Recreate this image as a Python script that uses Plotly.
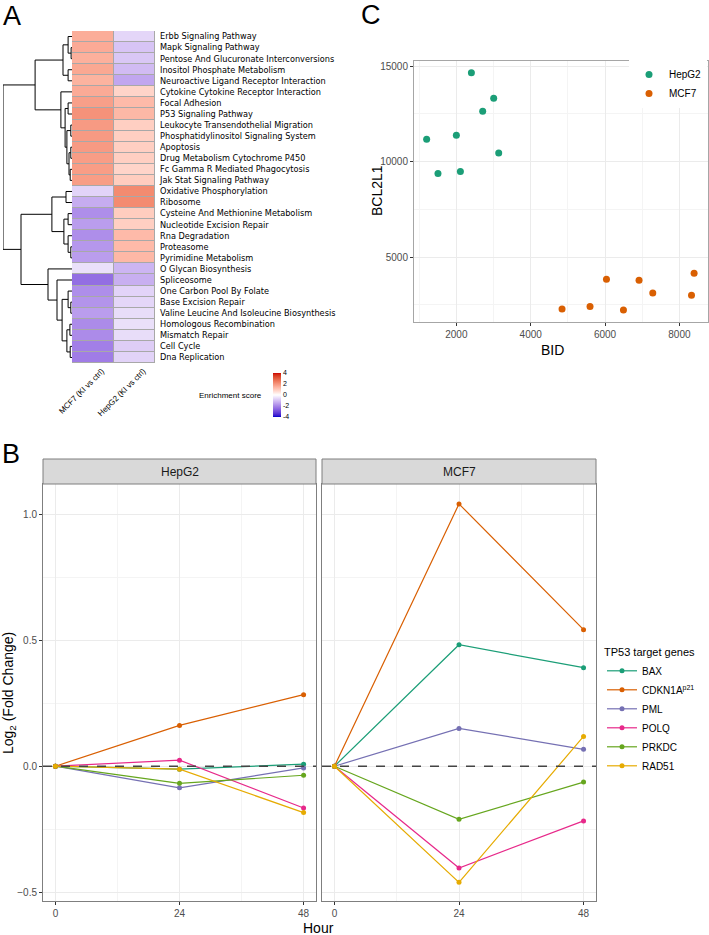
import plotly.graph_objects as go
import numpy as np

W, H = 709, 935
def px(x): return x / W
def py(y): return 1 - y / H

# ---------------- Panel A data ----------------
pathways = [
    "Erbb Signaling Pathway", "Mapk Signaling Pathway", "Pentose And Glucuronate Interconversions",
    "Inositol Phosphate Metabolism", "Neuroactive Ligand Receptor Interaction",
    "Cytokine Cytokine Receptor Interaction", "Focal Adhesion", "P53 Signaling Pathway",
    "Leukocyte Transendothelial Migration", "Phosphatidylinositol Signaling System", "Apoptosis",
    "Drug Metabolism Cytochrome P450", "Fc Gamma R Mediated Phagocytosis", "Jak Stat Signaling Pathway",
    "Oxidative Phosphorylation", "Ribosome", "Cysteine And Methionine Metabolism",
    "Nucleotide Excision Repair", "Rna Degradation", "Proteasome", "Pyrimidine Metabolism",
    "O Glycan Biosynthesis", "Spliceosome", "One Carbon Pool By Folate", "Base Excision Repair",
    "Valine Leucine And Isoleucine Biosynthesis", "Homologous Recombination", "Mismatch Repair",
    "Cell Cycle", "Dna Replication",
]
mcf7_score = [1.55, 1.6, 1.5, 1.65, 1.45, 1.6, 1.8, 2.05, 1.9, 1.9, 1.9, 1.85, 1.85, 1.85,
              -0.7, -1.35, -1.85, -1.6, -1.85, -1.7, -1.6,
              -0.5, -2.4, -1.85, -1.75, -1.6, -1.9, -1.9, -2.1, -2.15]
hepg2_score = [-0.65, -0.95, -0.9, -1.1, -1.45, 0.8, 1.3, 1.35, 0.9, 0.9, 0.9, 0.9, 0.8, 0.95,
               2.2, 2.2, 0.95, 0.9, 1.3, 1.3, 1.35,
               -1.2, -1.3, -0.7, -0.65, -0.55, -0.5, -0.55, -0.8, -0.7]
col_labels = ["MCF7 (KI vs ctrl)", "HepG2 (KI vs ctrl)"]
score_ticks = [-4, -2, 0, 2, 4]

# row dendrogram: (merge height, left, right); leaves = row index
row_tree = (23.0,
            (12.3,
             (3.0, (1.3, 0, (0.3, 1, 2)), (1.3, 3, 4)),
             (3.7, 5, (2.3, (1.3, 6, 7),
                       (1.7, (0.4, 8, 9), (1.0, (0.4, 10, 11), (0.6, 12, 13)))))),
            (17.0,
             (6.7, (2.0, 14, 15), (2.7, (1.3, 16, 17), (1.3, 18, (0.4, 19, 20)))),
             (8.0, 21, (5.0, 22, (3.3, (1.3, 23, (0.4, 24, 25)),
                                  (1.7, (0.7, 26, 27), (0.6, 28, 29)))))))

# ---------------- Panel B data ----------------
hours = [0, 24, 48]
genes = ["BAX", "CDKN1A", "PML", "POLQ", "PRKDC", "RAD51"]
gene_labels = ["BAX", "CDKN1A<sup>p21</sup>", "PML", "POLQ", "PRKDC", "RAD51"]
hepg2_0h = [0.0, 0.0, 0.0, 0.0, 0.0, 0.0]
hepg2_24h = [-0.012, 0.162, -0.086, 0.024, -0.068, -0.012]
hepg2_48h = [0.008, 0.284, -0.007, -0.166, -0.036, -0.184]
mcf7_0h = [0.0, 0.0, 0.0, 0.0, 0.0, 0.0]
mcf7_24h = [0.482, 1.041, 0.150, -0.404, -0.211, -0.461]
mcf7_48h = [0.391, 0.542, 0.067, -0.217, -0.063, 0.118]
gene_colors = ["#1B9E77", "#D95F02", "#7570B3", "#E7298A", "#66A61E", "#E6AB02"]

# ---------------- Panel C data ----------------
hepg2_bid = [1200, 1505, 2000, 2108, 2404, 2708, 3004, 3139]
hepg2_bcl2l1 = [11167, 9375, 11375, 9479, 14656, 12640, 13317, 10453]
mcf7_bid = [4843, 5596, 6038, 6495, 6915, 7284, 8326, 8396]
mcf7_bcl2l1 = [2276, 2417, 3839, 2224, 3787, 3125, 3005, 4151]

# ---------------- helpers ----------------
def _lin(c):
    c = c / 255.0
    return c / 12.92 if c <= 0.04045 else ((c + 0.055) / 1.055) ** 2.4

def _delin(c):
    c = 12.92 * c if c <= 0.0031308 else 1.055 * c ** (1 / 2.4) - 0.055
    return int(round(min(max(c, 0), 1) * 255))

WN = (0.95047, 1.0, 1.08883)
def rgb2lab(rgb):
    r, g, b = [_lin(v) for v in rgb]
    X = 0.4124 * r + 0.3576 * g + 0.1805 * b
    Y = 0.2126 * r + 0.7152 * g + 0.0722 * b
    Z = 0.0193 * r + 0.1192 * g + 0.9505 * b
    d = 6 / 29
    f = lambda t: t ** (1 / 3) if t > d ** 3 else t / (3 * d * d) + 4 / 29
    fx, fy, fz = f(X / WN[0]), f(Y / WN[1]), f(Z / WN[2])
    return (116 * fy - 16, 500 * (fx - fy), 200 * (fy - fz))

def lab2rgb(lab):
    L, a, b = lab
    fy = (L + 16) / 116
    fx = fy + a / 500
    fz = fy - b / 200
    d = 6 / 29
    finv = lambda t: t ** 3 if t > d else 3 * d * d * (t - 4 / 29)
    X, Y, Z = WN[0] * finv(fx), WN[1] * finv(fy), WN[2] * finv(fz)
    r = 3.2406 * X - 1.5372 * Y - 0.4986 * Z
    g = -0.9689 * X + 1.8758 * Y + 0.0415 * Z
    bb = 0.0557 * X - 0.2040 * Y + 1.0570 * Z
    return "rgb(%d,%d,%d)" % (_delin(r), _delin(g), _delin(bb))

blue_lab, white_lab, red_lab = rgb2lab((0, 0, 204)), rgb2lab((255, 255, 255)), rgb2lab((204, 0, 0))
colorscale = []
for v in np.linspace(-4, 4, 33):
    if v <= 0:
        t = (v + 4) / 4
        lab = [blue_lab[k] + (white_lab[k] - blue_lab[k]) * t for k in range(3)]
    else:
        t = v / 4
        lab = [white_lab[k] + (red_lab[k] - white_lab[k]) * t for k in range(3)]
    colorscale.append([(v + 4) / 8, lab2rgb(lab)])

def dendro_segments(node, xs, ys):
    """return (y position, height) of node; append line segments"""
    if isinstance(node, int):
        return float(node), 0.0
    h, left, right = node
    yl, hl = dendro_segments(left, xs, ys)
    yr, hr = dendro_segments(right, xs, ys)
    xs += [hl, h, h, hr, None]
    ys += [yl, yl, yr, yr, None]
    return (yl + yr) / 2, h

SANS = "Liberation Sans, Arial, sans-serif"
fig = go.Figure()

# ---- dendrogram
dx, dy = [], []
dendro_segments(row_tree, dx, dy)
fig.add_trace(go.Scatter(x=dx, y=dy, mode="lines", line=dict(color="black", width=1),
                         xaxis="x", yaxis="y", showlegend=False, hoverinfo="skip"))

# ---- heatmap
z = [[m, h] for m, h in zip(mcf7_score, hepg2_score)]
fig.add_trace(go.Heatmap(
    z=z, x=col_labels, y=pathways, xaxis="x2", yaxis="y2",
    colorscale=colorscale, zmin=-4, zmax=4, xgap=1, ygap=1,
    colorbar=dict(x=px(273), xanchor="left", y=py(395), yanchor="middle",
                  len=44, lenmode="pixels", thickness=8, thicknessmode="pixels",
                  xpad=0, ypad=0, outlinewidth=0, ticks="",
                  tickvals=score_ticks, ticktext=[str(v) for v in score_ticks],
                  tickfont=dict(family=SANS, size=7, color="black")),
))

# ---- panel B lines
panels = [("x4", "y4", hepg2_0h, hepg2_24h, hepg2_48h, True),
          ("x5", "y5", mcf7_0h, mcf7_24h, mcf7_48h, False)]
for xa, ya, v0, v24, v48, show in panels:
    for i, g in enumerate(genes):
        fig.add_trace(go.Scatter(
            x=hours, y=[v0[i], v24[i], v48[i]], mode="lines+markers",
            line=dict(color=gene_colors[i], width=1.2),
            marker=dict(color=gene_colors[i], size=5),
            name=gene_labels[i], legendgroup=g, showlegend=show, legend="legend2",
            xaxis=xa, yaxis=ya))

# ---- panel C scatter
fig.add_trace(go.Scatter(x=hepg2_bid, y=hepg2_bcl2l1, mode="markers", name="HepG2",
                         marker=dict(color="#1B9E77", size=7), xaxis="x3", yaxis="y3",
                         legend="legend"))
fig.add_trace(go.Scatter(x=mcf7_bid, y=mcf7_bcl2l1, mode="markers", name="MCF7",
                         marker=dict(color="#D95F02", size=7), xaxis="x3", yaxis="y3",
                         legend="legend"))

hm_dom_y = [py(363), py(31)]
tickfont = dict(family=SANS, size=10, color="#4D4D4D")
grid = dict(showgrid=True, gridcolor="#EBEBEB", gridwidth=1, zeroline=False,
            ticks="outside", ticklen=3, tickcolor="#333333", tickwidth=1, tickfont=tickfont,
            showline=True, mirror=True)

layout = dict(
    width=W, height=H, template="none",
    margin=dict(l=0, r=0, t=0, b=0, autoexpand=False),
    paper_bgcolor="white", plot_bgcolor="white",
    font=dict(family=SANS, color="black"),
    xaxis=dict(domain=[px(3), px(72)], range=[23, 0], visible=False, anchor="y"),
    yaxis=dict(domain=hm_dom_y, range=[29.5, -0.5], visible=False, anchor="x"),
    xaxis2=dict(domain=[px(72), px(155)], anchor="y2", type="category", range=[-0.5, 1.5],
                tickangle=-45, tickfont=dict(family=SANS, size=8, color="black"),
                ticklabelshift=9, ticklabelstandoff=1,
                showgrid=False, zeroline=False, ticks="", showline=False),
    yaxis2=dict(domain=hm_dom_y, anchor="x2", type="category", range=[29.5, -0.5],
                side="right", tickfont=dict(family="DejaVu Sans", size=8.2, color="black"),
                ticklabelstandoff=4,
                showgrid=False, zeroline=False, ticks="", showline=False),
    xaxis3=dict(domain=[px(414), px(708)], anchor="y3", range=[860, 8770], tick0=0, dtick=2000,
                tickformat="d",
                minor=dict(showgrid=True, gridcolor="#F4F4F4", dtick=1000, tick0=0),
                linecolor="#A6A6A6", **grid),
    yaxis3=dict(domain=[py(322), py(61)], anchor="x3", range=[1600, 15270], tick0=0, dtick=5000,
                tickformat="d",
                minor=dict(showgrid=True, gridcolor="#F4F4F4", dtick=2500, tick0=0),
                linecolor="#A6A6A6", **grid),
    xaxis4=dict(domain=[px(43), px(316)], anchor="y4", range=[-2.4, 50.4], tick0=0, dtick=24,
                minor=dict(showgrid=True, gridcolor="#F4F4F4", dtick=12, tick0=0),
                linecolor="#7F7F7F", **grid),
    yaxis4=dict(domain=[py(901), py(484)], anchor="x4", range=[-0.535, 1.12], tick0=0, dtick=0.5,
                tickformat=".1f",
                minor=dict(showgrid=True, gridcolor="#F4F4F4", dtick=0.25, tick0=0),
                linecolor="#7F7F7F", **grid),
    xaxis5=dict(domain=[px(322), px(596)], anchor="y5", range=[-2.4, 50.4], tick0=0, dtick=24,
                minor=dict(showgrid=True, gridcolor="#F4F4F4", dtick=12, tick0=0),
                linecolor="#7F7F7F", **grid),
    yaxis5=dict(domain=[py(901), py(484)], anchor="x5", range=[-0.535, 1.12], tick0=0, dtick=0.5,
                minor=dict(showgrid=True, gridcolor="#F4F4F4", dtick=0.25, tick0=0),
                showgrid=True, gridcolor="#EBEBEB", zeroline=False, showticklabels=False,
                ticks="", showline=True, mirror=True, linecolor="#7F7F7F"),
    legend=dict(x=px(629), y=py(60), xanchor="left", yanchor="top", bgcolor="white",
                font=dict(family=SANS, size=10, color="black"), itemwidth=30, tracegroupgap=0),
    legend2=dict(x=px(602), y=py(642), xanchor="left", yanchor="top", bgcolor="rgba(0,0,0,0)",
                 font=dict(family=SANS, size=10, color="black"), itemwidth=30, tracegroupgap=0,
                 title=dict(text="TP53 target genes", font=dict(family=SANS, size=11))),
)
fig.update_layout(**layout)

shapes = [
    dict(type="rect", xref="x2", yref="y2", x0=-0.5, x1=1.5, y0=-0.5, y1=29.5,
         fillcolor="#A8A8A8", line=dict(width=0), layer="below"),
    dict(type="line", xref="x4 domain", yref="y4", x0=0, x1=1, y0=0, y1=0,
         line=dict(color="#444444", width=1.5, dash="dash")),
    dict(type="line", xref="x5 domain", yref="y5", x0=0, x1=1, y0=0, y1=0,
         line=dict(color="#444444", width=1.5, dash="dash")),
    dict(type="rect", xref="paper", yref="paper", x0=px(43), x1=px(316), y0=py(484), y1=py(459),
         fillcolor="#D9D9D9", line=dict(color="#7F7F7F", width=1)),
    dict(type="rect", xref="paper", yref="paper", x0=px(322), x1=px(596), y0=py(484), y1=py(459),
         fillcolor="#D9D9D9", line=dict(color="#7F7F7F", width=1)),
]
fig.update_layout(shapes=shapes)

def ann(text, x, y, size, xanchor="center", yanchor="middle", angle=0, color="black"):
    return dict(text=text, x=px(x), y=py(y), xref="paper", yref="paper", showarrow=False,
                xanchor=xanchor, yanchor=yanchor, textangle=angle,
                font=dict(family=SANS, size=size, color=color))

fig.update_layout(annotations=[
    ann("A", 1, 16, 27, xanchor="left"),
    ann("B", 0, 454, 27, xanchor="left"),
    ann("C", 359, 15, 27, xanchor="left"),
    ann("Enrichment score", 264, 395, 8, xanchor="right"),
    ann("HepG2", 179.5, 471.5, 12, color="#1A1A1A"),
    ann("MCF7", 459, 471.5, 12, color="#1A1A1A"),
    ann("Log<sub>2</sub> (Fold Change)", 9, 693, 14, angle=-90),
    ann("Hour", 318, 928, 14),
    ann("BID", 552, 350, 14),
    ann("BCL2L1", 377, 190, 14, angle=-90),
])

fig.write_html("out.html")
